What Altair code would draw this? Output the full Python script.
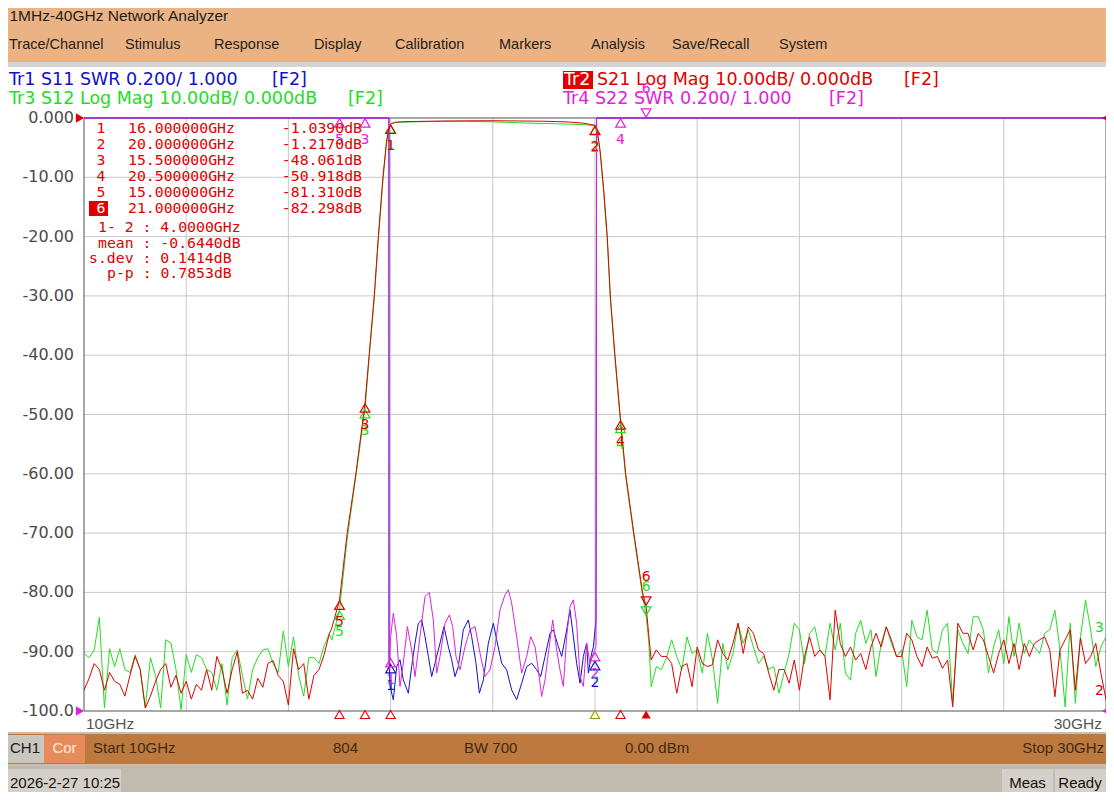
import altair as alt
import pandas as pd

W, H = 1114, 800
M = 8  # page margin that the chart is shifted back over

left_freq = [round(10.0 + 0.1 * i, 1) for i in range(49)]     # 10.0 .. 14.8 GHz
right_freq = [round(21.1 + 0.1 * i, 1) for i in range(90)]    # 21.1 .. 30.0 GHz

s21_left = [-96.5, -94.5, -92, -93, -96.5, -93.5, -95, -95.5, -97.5, -94,
            -90.8, -93, -99.5, -97.5, -95, -93, -92, -96, -94, -97,
            -95, -98, -95.5, -96.5, -93, -96.5, -90.8, -93, -97, -93,
            -90, -97, -96.5, -98, -94.5, -96, -92, -91.5, -94, -95,
            -99, -89.5, -93, -92, -98, -94, -93, -90.5, -87]
s12_left = [-90.3, -91, -89.7, -84.2, -99.5, -89.5, -92.5, -89.5, -93, -93.5,
            -90.5, -93, -99.5, -91, -94, -99.5, -88, -88.5, -93, -99.8,
            -90.5, -93.5, -90.5, -91, -93, -93.5, -96.5, -92, -99, -91,
            -89.7, -94, -98, -93, -91, -89.7, -89.5, -92, -93.5, -86.5,
            -92.5, -87.5, -94, -97.5, -91, -91, -92, -89, -87]
s21_right = [-91.4, -89.7, -90.8, -90.8, -92, -97, -92.5, -92, -95.9, -89.2,
             -92, -92.5, -92.2, -88, -90.3, -91.4, -88.6, -85.2, -90.3, -85.8,
             -86.9, -89.7, -90.3, -93.6, -96.5, -93, -93, -95.3, -91.4, -96.5,
             -90.8, -87.5, -90.8, -89.7, -90.8, -98.1, -83, -88.6, -90.8, -89.2,
             -91.4, -90.3, -93, -89.2, -86.9, -89.2, -85.8, -88, -90.8, -90.8,
             -86.9, -88, -90.8, -92.5, -89.2, -91.1, -90.8, -92.8, -91.4, -99.3,
             -85.2, -86.9, -86.9, -89.7, -86.9, -88, -90.8, -93.6, -90.3, -88,
             -92, -88.6, -93, -88.6, -90.8, -88.6, -88, -87.5, -89.7, -97.6,
             -89.7, -88, -86.3, -96.5, -87.7, -92, -90.8, -88.6, -93.6, -98.1]
s12_right = [-95.9, -92.5, -93, -91, -88, -90.8, -93, -87.5, -90.3, -89.7,
             -93.6, -86.9, -91.4, -98.7, -88.6, -93, -90.3, -85.2, -88.6, -86.3,
             -89.2, -92, -90.8, -93, -92.5, -97, -93.6, -90.3, -85.2, -86.3,
             -92, -86.9, -85.8, -89.7, -90.8, -85.2, -89.7, -85.2, -93.6, -94.8,
             -86.9, -84.7, -88.6, -86.3, -94.2, -88.6, -85.8, -88.6, -90.8, -89.7,
             -95.9, -84.7, -87.5, -88, -83, -89.7, -90.3, -86.3, -85.2, -98.7,
             -86.3, -88.6, -90.3, -84.1, -84.1, -86.3, -93.6, -89.2, -86.3, -92,
             -84.1, -90.8, -85.2, -90.3, -88, -89.2, -90.3, -86.9, -86.3, -83,
             -89.7, -99.3, -85.2, -98.7, -87.5, -81.3, -86.3, -92.5, -89.2, -87.5]

skirt_lo_freq = [14.85, 15.0, 15.15, 15.32, 15.5, 15.58, 15.68, 15.76, 15.85, 15.92, 15.96]
s21_skirt_lo = [-86, -81.31, -70, -60, -48.06, -40, -30, -20, -10, -4, -2]
s12_skirt_lo = [-88, -83, -71, -60.5, -49, -40.5, -30.5, -20.5, -10.5, -4.2, -2.1]

pass_freq = [16.0, 16.08, 16.25, 16.5, 16.75, 17.0, 17.25, 17.5, 17.75, 18.0,
             18.25, 18.5, 18.75, 19.0, 19.25, 19.5, 19.75, 20.0]
s21_pass = [-1.039, -0.72, -0.62, -0.58, -0.55, -0.52, -0.50, -0.48, -0.47, -0.46,
            -0.48, -0.50, -0.52, -0.55, -0.60, -0.68, -0.85, -1.217]
s12_pass = [-1.0, -0.78, -0.70, -0.64, -0.60, -0.56, -0.55, -0.56, -0.60, -0.66,
            -0.72, -0.80, -0.87, -0.93, -0.98, -1.03, -1.10, -1.30]

skirt_hi_freq = [20.05, 20.1, 20.17, 20.24, 20.3, 20.39, 20.5, 20.6, 20.76, 20.93, 21.0, 21.05]
s21_skirt_hi = [-2.5, -5.5, -12, -20, -30, -40, -50.92, -60, -70, -80, -82.3, -87]
s12_skirt_hi = [-2.7, -5.8, -12.5, -20.5, -30.5, -40.5, -51.5, -60.5, -70.5, -80.5, -84, -88]

# SWR traces (3.0 = top of the 0.2/div scale, off-scale values sit there)
s22_freq = [10.0, 15.97, 15.975, 16.001, 16.054, 16.119, 16.184, 16.249, 16.328, 16.412,
            16.478, 16.575, 16.673, 16.758, 16.836, 16.902, 16.967, 17.065, 17.150, 17.215,
            17.280, 17.358, 17.456, 17.554, 17.652, 17.750, 17.847, 17.945, 18.043, 18.141,
            18.239, 18.304, 18.369, 18.467, 18.565, 18.663, 18.741, 18.826, 18.891, 18.956,
            19.022, 19.087, 19.172, 19.250, 19.315, 19.380, 19.446, 19.511, 19.576, 19.641,
            19.707, 19.772, 19.837, 19.902, 19.968, 20.020, 20.03, 30.0]
s22_swr = [3.0, 3.0, 1.139, 1.251, 1.330, 1.251, 1.083, 1.161, 1.285, 1.206,
           1.116, 1.251, 1.386, 1.400, 1.307, 1.128, 1.184, 1.296, 1.324, 1.285,
           1.184, 1.139, 1.217, 1.274, 1.285, 1.195, 1.116, 1.139, 1.217, 1.341,
           1.392, 1.409, 1.364, 1.251, 1.128, 1.184, 1.251, 1.217, 1.139, 1.049,
           1.105, 1.195, 1.307, 1.206, 1.139, 1.083, 1.251, 1.352, 1.375, 1.296,
           1.116, 1.083, 1.229, 1.161, 1.195, 1.217, 3.0, 3.0]
s11_freq = [10.0, 15.967, 15.968, 15.988, 16.054, 16.119, 16.184, 16.249, 16.347, 16.412,
            16.478, 16.543, 16.608, 16.673, 16.739, 16.804, 16.869, 16.967, 17.045, 17.130,
            17.195, 17.260, 17.326, 17.423, 17.521, 17.586, 17.671, 17.737, 17.815, 17.913,
            18.011, 18.076, 18.174, 18.271, 18.369, 18.467, 18.565, 18.663, 18.761, 18.859,
            18.937, 19.022, 19.120, 19.185, 19.283, 19.348, 19.446, 19.511, 19.576, 19.641,
            19.707, 19.772, 19.837, 19.870, 19.935, 19.968, 20.020, 20.032, 30.0]
s11_swr = [3.0, 3.0, 1.173, 1.083, 1.038, 1.150, 1.173, 1.105, 1.060, 1.150,
           1.229, 1.296, 1.307, 1.251, 1.184, 1.116, 1.161, 1.229, 1.285, 1.217,
           1.173, 1.116, 1.150, 1.274, 1.307, 1.251, 1.161, 1.060, 1.105, 1.229,
           1.296, 1.240, 1.161, 1.139, 1.071, 1.038, 1.094, 1.150, 1.161, 1.139,
           1.116, 1.184, 1.262, 1.274, 1.217, 1.184, 1.274, 1.341, 1.251, 1.161,
           1.094, 1.184, 1.229, 1.128, 1.195, 1.217, 1.307, 3.0, 3.0]

# markers
mk_num = [1, 2, 3, 4, 5, 6]
mk_freq = [16.0, 20.0, 15.5, 20.5, 15.0, 21.0]
mk_s21 = [-1.039, -1.217, -48.061, -50.918, -81.310, -82.298]
mk_s12 = [-1.0, -1.3, -49.0, -51.5, -83.0, -84.0]
mk_s22 = [1.18, 1.20, 3.0, 3.0, 3.0, 3.0]
mk_s11 = [1.16, 1.17]
mk_active = [0, 0, 0, 0, 0, 1]
stats_lbl = ["1- 2", "mean", "s.dev", "p-p"]
stats_val = ["4.0000GHz", "-0.6440dB", "0.1414dB", "0.7853dB"]

y_ticks = [0, -10, -20, -30, -40, -50, -60, -70, -80, -90, -100]
y_tick_lbl = ["0.000", "-10.00", "-20.00", "-30.00", "-40.00", "-50.00",
              "-60.00", "-70.00", "-80.00", "-90.00", "-100.0"]
x_grid = [12, 14, 16, 18, 20, 22, 24, 26, 28]
y_grid = [-10, -20, -30, -40, -50, -60, -70, -80, -90]

menus = ["Trace/Channel", "Stimulus", "Response", "Display", "Calibration",
         "Markers", "Analysis", "Save/Recall", "System"]

RED, GREEN, BLUE, MAG = "#E00000", "#22DD22", "#1010C8", "#DD22DD"

# ---------------- scales ----------------
PX = alt.Scale(domain=[0, W], range=[0, W], nice=False, zero=False)
PY = alt.Scale(domain=[0, H], range=[0, H], nice=False, zero=False)
FX = alt.Scale(domain=[10, 30], range=[84, 1106], nice=False, zero=False)
FY = alt.Scale(domain=[-100, 0], range=[711, 118], nice=False, zero=False)

SWR_TO_DISP = "(datum.swr - 1) / 0.2 * 10 - 100"


def txt(rows, font, align="left", baseline="middle"):
    df = pd.DataFrame(rows, columns=["t", "x", "y", "s", "c"])
    return alt.Chart(df).mark_text(font=font, align=align, baseline=baseline).encode(
        x=alt.X("x:Q", scale=PX, axis=None),
        y=alt.Y("y:Q", scale=PY, axis=None),
        text="t:N",
        color=alt.Color("c:N", scale=None),
        size=alt.Size("s:Q", scale=None),
    )


layers = []

# --- background panels ---
rects = pd.DataFrame([
    dict(x=0, x2=W, y=0, y2=62, c="#EBB383"),
    dict(x=0, x2=W, y=62, y2=67, c="#D3D3D3"),
    dict(x=0, x2=W, y=67, y2=732, c="#FFFFFF"),
    dict(x=0, x2=W, y=732, y2=766, c="#CDBDAA"),
    dict(x=3, x2=1111, y=734, y2=764, c="#BE7A3E"),
    dict(x=5, x2=44, y=735, y2=763, c="#C9C5BF"),
    dict(x=44, x2=85, y=735, y2=763, c="#E88B5A"),
    dict(x=0, x2=W, y=766, y2=H, c="#C1BAAE"),
    dict(x=3, x2=121, y=769, y2=797, c="#D4D0C9"),
    dict(x=1002, x2=1053, y=769, y2=797, c="#D4D0C9"),
    dict(x=1055, x2=1111, y=769, y2=797, c="#D4D0C9"),
    dict(x=563, x2=593, y=71, y2=89, c="#E00000"),
    dict(x=89, x2=108, y=201, y2=216, c="#E00000"),
])
layers.append(alt.Chart(rects).mark_rect().encode(
    x=alt.X("x:Q", scale=PX, axis=None), x2="x2:Q",
    y=alt.Y("y:Q", scale=PY, axis=None), y2="y2:Q",
    color=alt.Color("c:N", scale=None)))

# --- window chrome text ---
menu_x = [9, 125, 214, 314, 395, 499, 591, 672, 779]
ui_left = [("1MHz-40GHz Network Analyzer", 9.5, 16, 15.5, "#1E1E1E")]
ui_left += [(m, x, 45, 14.5, "#1E1E1E") for m, x in zip(menus, menu_x)]
ui_left += [("Start 10GHz", 93, 748, 15, "#3C2A18"), ("804", 333, 748, 15, "#3C2A18"),
            ("BW 700", 464, 748, 15, "#3C2A18"), ("0.00 dBm", 625, 748, 15, "#3C2A18"),
            ("2026-2-27 10:25", 10, 783, 15, "#111111")]
layers.append(txt(ui_left, "Liberation Sans"))
layers.append(txt([("CH1", 25, 748, 15, "#1A1A1A"), ("Cor", 64.5, 748, 15, "#FFEBDD"),
                   ("Meas", 1027.5, 783, 15, "#111111"), ("Ready", 1080, 783, 15, "#111111")],
                  "Liberation Sans", align="center"))
layers.append(txt([("Stop 30GHz", 1104, 748, 15, "#3C2A18")], "Liberation Sans", align="right"))

# --- trace header ---
hdr = [("Tr1 S11 SWR 0.200/ 1.000", 9, 80, 17.5, BLUE), ("[F2]", 272, 80, 17.5, BLUE),
       ("Tr3 S12 Log Mag 10.00dB/ 0.000dB", 9, 99, 17.5, GREEN), ("[F2]", 348, 99, 17.5, GREEN),
       ("Tr2", 564, 80, 17.5, "#FFFFFF"),
       ("S21 Log Mag 10.00dB/ 0.000dB", 597, 80, 17.5, RED), ("[F2]", 904, 80, 17.5, RED),
       ("Tr4 S22 SWR 0.200/ 1.000", 563, 99, 17.5, MAG), ("[F2]", 829, 99, 17.5, MAG)]
layers.append(txt(hdr, "DejaVu Sans"))

# --- graticule ---
vgrid = pd.DataFrame({"f": x_grid, "lo": -100, "hi": 0})
hgrid = pd.DataFrame({"v": y_grid, "lo": 10, "hi": 30})
layers.append(alt.Chart(vgrid).mark_rule(color="#C8C8C8", strokeWidth=1).encode(
    x=alt.X("f:Q", scale=FX, axis=None),
    y=alt.Y("lo:Q", scale=FY, axis=None), y2="hi:Q"))
layers.append(alt.Chart(hgrid).mark_rule(color="#C8C8C8", strokeWidth=1).encode(
    y=alt.Y("v:Q", scale=FY, axis=None),
    x=alt.X("lo:Q", scale=FX, axis=None), x2="hi:Q"))
vframe = pd.DataFrame({"f": [10, 30], "lo": -100, "hi": 0})
hframe = pd.DataFrame({"v": [0, -100], "lo": 10, "hi": 30})
layers.append(alt.Chart(vframe).mark_rule(color="#505050", strokeWidth=1).encode(
    x=alt.X("f:Q", scale=FX, axis=None),
    y=alt.Y("lo:Q", scale=FY, axis=None), y2="hi:Q"))
layers.append(alt.Chart(hframe).mark_rule(color="#505050", strokeWidth=1).encode(
    y=alt.Y("v:Q", scale=FY, axis=None),
    x=alt.X("lo:Q", scale=FX, axis=None), x2="hi:Q"))

# --- axis labels ---
layers.append(alt.Chart(pd.DataFrame({"v": y_ticks, "t": y_tick_lbl})).mark_text(
    font="DejaVu Sans", fontSize=16, align="right", baseline="middle", color="#4A4A4A").encode(
    y=alt.Y("v:Q", scale=FY, axis=None), x=alt.value(74), text="t:N"))
layers.append(alt.Chart(pd.DataFrame({"f": [10], "t": ["10GHz"]})).mark_text(
    font="Liberation Sans", fontSize=15.5, align="left", baseline="middle", color="#555555", dx=2).encode(
    x=alt.X("f:Q", scale=FX, axis=None), y=alt.value(724), text="t:N"))
layers.append(alt.Chart(pd.DataFrame({"f": [30], "t": ["30GHz"]})).mark_text(
    font="Liberation Sans", fontSize=15.5, align="right", baseline="middle", color="#555555", dx=-4).encode(
    x=alt.X("f:Q", scale=FX, axis=None), y=alt.value(724), text="t:N"))

# --- traces ---
s21 = pd.DataFrame({"f": left_freq + skirt_lo_freq + pass_freq + skirt_hi_freq + right_freq,
                    "v": s21_left + s21_skirt_lo + s21_pass + s21_skirt_hi + s21_right})
s12 = pd.DataFrame({"f": left_freq + skirt_lo_freq + pass_freq + skirt_hi_freq + right_freq,
                    "v": s12_left + s12_skirt_lo + s12_pass + s12_skirt_hi + s12_right})
s11 = pd.DataFrame({"f": s11_freq, "swr": s11_swr})
s22 = pd.DataFrame({"f": s22_freq, "swr": s22_swr})


def line(df, color, swr=False):
    ch = alt.Chart(df)
    if swr:
        ch = ch.transform_calculate(v=SWR_TO_DISP)
    return ch.mark_line(color=color, strokeWidth=1, interpolate="linear").encode(
        x=alt.X("f:Q", scale=FX, axis=None), y=alt.Y("v:Q", scale=FY, axis=None),
        order="f:Q")


layers += [line(s12, GREEN), line(s21, RED), line(s11, BLUE, True), line(s22, MAG, True)]


# --- markers on traces ---
def marker_layers(df, color, swr=False):
    base = alt.Chart(df)
    if swr:
        base = base.transform_calculate(v=SWR_TO_DISP)
    enc = dict(x=alt.X("f:Q", scale=FX, axis=None), y=alt.Y("v:Q", scale=FY, axis=None))
    ina = base.transform_filter("datum.act == 0")
    act = base.transform_filter("datum.act == 1")
    return [
        ina.mark_point(shape="triangle-up", filled=False, size=95, strokeWidth=1.2,
                       color=color, opacity=1, yOffset=5).encode(**enc),
        ina.mark_text(font="DejaVu Sans", fontSize=14, color=color, dy=22).encode(text="m:N", **enc),
        act.mark_point(shape="triangle-down", filled=False, size=95, strokeWidth=1.2,
                       color=color, opacity=1, yOffset=-5).encode(**enc),
        act.mark_text(font="DejaVu Sans", fontSize=14, color=color, dy=-29).encode(text="m:N", **enc),
    ]


layers += marker_layers(pd.DataFrame({"m": mk_num, "f": mk_freq, "v": mk_s12, "act": mk_active}), GREEN)
layers += marker_layers(pd.DataFrame({"m": mk_num, "f": mk_freq, "v": mk_s21, "act": mk_active}), RED)
layers += marker_layers(pd.DataFrame({"m": mk_num[:2], "f": mk_freq[:2], "swr": mk_s11, "act": mk_active[:2]}), BLUE, True)
layers += marker_layers(pd.DataFrame({"m": mk_num, "f": mk_freq, "swr": mk_s22, "act": mk_active}), MAG, True)

# --- stimulus marker triangles under the x axis ---
stim = pd.DataFrame({"f": mk_freq, "c": [RED, "#9A9A00", RED, RED, RED, RED], "act": mk_active})
layers.append(alt.Chart(stim).transform_filter("datum.act == 0").mark_point(
    shape="triangle-up", filled=False, size=85, strokeWidth=1.1, opacity=1).encode(
    x=alt.X("f:Q", scale=FX, axis=None), y=alt.value(714.5), color=alt.Color("c:N", scale=None)))
layers.append(alt.Chart(stim).transform_filter("datum.act == 1").mark_point(
    shape="triangle-up", filled=True, size=85, opacity=1).encode(
    x=alt.X("f:Q", scale=FX, axis=None), y=alt.value(714.5), color=alt.Color("c:N", scale=None)))

# --- reference-level arrows at both plot edges ---
ref_l = pd.DataFrame({"f": [10, 10], "v": [0, -100], "c": [RED, MAG]})
ref_r = pd.DataFrame({"f": [30, 30], "v": [0, -100], "c": [RED, MAG]})
layers.append(alt.Chart(ref_l).mark_point(shape="triangle-right", filled=True, size=90, opacity=1, xOffset=-4).encode(
    x=alt.X("f:Q", scale=FX, axis=None), y=alt.Y("v:Q", scale=FY, axis=None), color=alt.Color("c:N", scale=None)))
layers.append(alt.Chart(ref_r).mark_point(shape="triangle-left", filled=True, size=90, opacity=1, xOffset=0).encode(
    x=alt.X("f:Q", scale=FX, axis=None), y=alt.Y("v:Q", scale=FY, axis=None), color=alt.Color("c:N", scale=None)))

# --- trace numbers at the right edge (kept just inside the visible page) ---
ends = pd.DataFrame({"f": [30, 30], "v": [s12_right[-1], s21_right[-1]], "t": ["3", "2"], "c": [GREEN, RED]})
layers.append(alt.Chart(ends).mark_text(font="DejaVu Sans", fontSize=14, align="right", dx=-2, dy=-9).encode(
    x=alt.X("f:Q", scale=FX, axis=None), y=alt.Y("v:Q", scale=FY, axis=None), text="t:N",
    color=alt.Color("c:N", scale=None)))


# --- marker table ---
def fmt_db(v):
    return f"{v:.4f}dB" if abs(v) < 10 else f"{v:.3f}dB"


row_y = [129 + 16 * i for i in range(6)]
tbl_num = [(str(n), 101, y, 14.8, "#FFFFFF" if a else RED) for n, y, a in zip(mk_num, row_y, mk_active)]
tbl_freq = [(f"{f:.6f}GHz", 128, y, 14.8, RED) for f, y in zip(mk_freq, row_y)]
tbl_val = [(fmt_db(v), 362, y, 14.8, RED) for v, y in zip(mk_s21, row_y)]
stat_x = [98, 98, 89, 107]
stat_y = [228, 244, 259, 274]
tbl_stats = [(f"{l} : {v}", x, y, 14.8, RED) for l, v, x, y in zip(stats_lbl, stats_val, stat_x, stat_y)]
layers.append(txt(tbl_num, "DejaVu Sans Mono", align="center"))
layers.append(txt(tbl_freq + tbl_stats, "DejaVu Sans Mono"))
layers.append(txt(tbl_val, "DejaVu Sans Mono", align="right"))

chart = alt.layer(*layers).resolve_scale(
    x="independent", y="independent", color="independent", size="independent"
).properties(
    width=W, height=H, background="#FFFFFF",
    padding={"left": -M, "top": -M, "right": -M, "bottom": -M},
    autosize=alt.AutoSizeParams(type="none"),
).configure_view(stroke=None)

chart.save("out.html", embed_options={"renderer": "svg", "actions": False})
